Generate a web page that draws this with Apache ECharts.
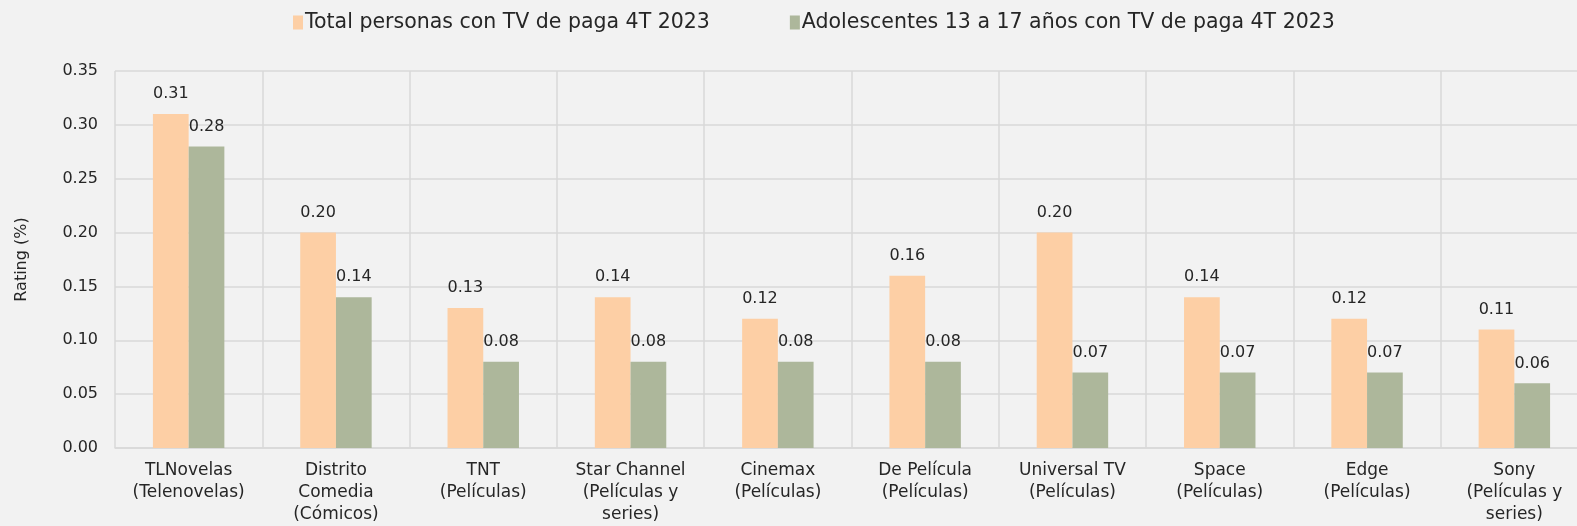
<!DOCTYPE html>
<html><head><meta charset="utf-8">
<script src="https://cdn.jsdelivr.net/npm/echarts@6/dist/echarts.min.js"></script>
<style>html,body{margin:0;padding:0;background:#f2f2f2;overflow:hidden}#c{width:1588px;height:526px}</style>
</head><body><div id="c"></div>
<script>
const categories = ["TLNovelas\n(Telenovelas)", "Distrito\nComedia\n(Cómicos)", "TNT\n(Películas)", "Star Channel\n(Películas y\nseries)", "Cinemax\n(Películas)", "De Película\n(Películas)", "Universal TV\n(Películas)", "Space\n(Películas)", "Edge\n(Películas)", "Sony\n(Películas y\nseries)"];
const totalName = "Total personas con TV de paga 4T 2023";
const adolName = "Adolescentes 13 a 17 años con TV de paga 4T 2023";
const totalValues = [0.31, 0.20, 0.13, 0.14, 0.12, 0.16, 0.20, 0.14, 0.12, 0.11];
const adolValues = [0.28, 0.14, 0.08, 0.08, 0.08, 0.08, 0.07, 0.07, 0.07, 0.06];
const yTicks = {min: 0, max: 0.35, interval: 0.05};

const font = "DejaVu Sans";
const chart = echarts.init(document.getElementById('c'));
const lbl = {show: true, position: 'top', distance: 12, color: '#262626', fontSize: 16, fontFamily: font, formatter: p => p.value.toFixed(2)};
chart.setOption({
  backgroundColor: '#f2f2f2',
  textStyle: {fontFamily: font},
  legend: {
    top: 7, left: 288, itemWidth: 10, itemHeight: 14, itemGap: 80,
    icon: 'rect',
    textStyle: {fontSize: 20.5, color: '#262626', fontFamily: font, padding: [0, 0, 0, -3]},
    data: [totalName, adolName]
  },
  grid: {left: 115, top: 71, right: 0, height: 377, containLabel: false},
  xAxis: {
    type: 'category', data: categories,
    axisLine: {lineStyle: {color: '#d9d9d9', width: 1.5}},
    axisTick: {show: false},
    splitLine: {show: true, lineStyle: {color: '#d9d9d9', width: 1.5}},
    axisLabel: {interval: 0, color: '#262626', fontSize: 17, lineHeight: 22, margin: 12, fontFamily: font}
  },
  yAxis: {
    type: 'value', min: yTicks.min, max: yTicks.max, interval: yTicks.interval,
    name: 'Rating (%)', nameLocation: 'middle', nameGap: 85, nameRotate: 90,
    nameTextStyle: {color: '#262626', fontSize: 16, fontFamily: font},
    axisLine: {show: false}, axisTick: {show: false},
    splitLine: {lineStyle: {color: '#d9d9d9', width: 1.5}},
    axisLabel: {color: '#262626', fontSize: 16, margin: 17, fontFamily: font, formatter: v => v.toFixed(2)}
  },
  series: [
    {name: totalName, type: 'bar', data: totalValues, barGap: '0%', barCategoryGap: '51.5%', itemStyle: {color: '#fdcfa5'}, label: lbl},
    {name: adolName, type: 'bar', data: adolValues, itemStyle: {color: '#adb79b'}, label: lbl}
  ]
});
</script></body></html>
